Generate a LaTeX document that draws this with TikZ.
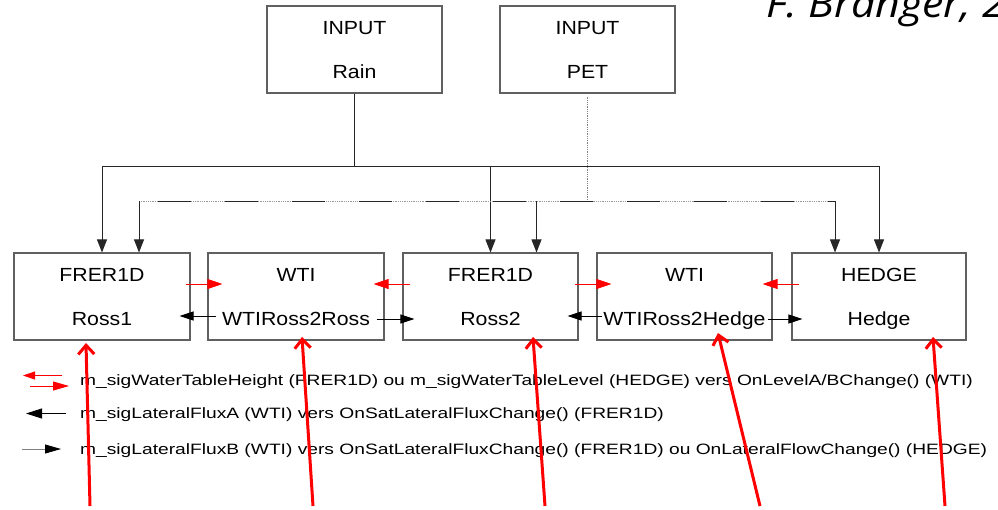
\documentclass[tikz,border=0pt]{standalone}
\usepackage{fontspec}
\setmainfont{Liberation Sans}
\newfontfamily\opensans{Open Sans}
\usepackage{graphicx}
\usetikzlibrary{arrows.meta,calc}
\definecolor{boxgray}{HTML}{606060}
\newcommand\hsc[2]{\scalebox{#1}[1]{#2}}
\newcommand\bt[1]{\hsc{1.12}{#1}}
\newcommand\lt[1]{\hsc{1.28}{#1}}
\begin{document}
\begin{tikzpicture}[x=1pt,y=-1pt,
  box/.style={draw=boxgray, line width=1.1pt, inner sep=0pt, align=center, minimum height=87pt, text depth=0pt, font=\fontsize{19}{44}\selectfont},
  conn/.style={draw=black!85, line width=0.9pt},
  darr/.style={conn, -{Triangle[length=13pt,width=10pt]}},
  redarr/.style={draw=red, line width=0.8pt, -{Triangle[length=15pt,width=10pt]}},
  blkarr/.style={draw=black, line width=0.8pt, -{Triangle[length=14pt,width=9pt]}},
  grayarr/.style={draw=gray, line width=0.8pt, -{Triangle[length=16pt,width=9pt,black]}},
  annot/.style={draw=red, line width=3pt, -{Straight Barb[length=9pt,width=16pt]}},
  legtext/.style={anchor=base west, inner sep=0pt, font=\fontsize{15}{18}\selectfont}
]
\useasboundingbox (0,0) rectangle (998,509);
\clip (0,0) rectangle (998,509);
\fill[white] (0,0) rectangle (998,509);

% title (cut off by the picture's edges, as in the reference)
\node[anchor=base west, inner sep=0pt, font=\opensans\itshape\fontsize{39}{44}\selectfont] (title) at (766,17) {\hsc{1.1}{F. Branger, 2}};

% input boxes
\node[box, minimum width=175pt] (rain) at (354.5,49.5) {\bt{INPUT}\\\bt{Rain}};
\node[box, minimum width=175pt] (pet) at (587.5,49.5) {\bt{INPUT}\\\bt{PET}};

% model boxes
\node[box, minimum width=176pt] (ross1) at (102,296.5) {\bt{FRER1D}\\\bt{Ross1}};
\node[box, minimum width=176pt] (wti1) at (296,296.5) {\bt{WTI}\\\bt{WTIRoss2Ross}};
\node[box, minimum width=175pt] (ross2) at (490.5,296.5) {\bt{FRER1D}\\\bt{Ross2}};
\node[box, minimum width=175pt] (wti2) at (684.5,296.5) {\bt{WTI}\\\bt{WTIRoss2Hedge}};
\node[box, minimum width=174pt] (hedge) at (879,296.5) {\bt{HEDGE}\\\bt{Hedge}};

% distribution buses
\coordinate (b1) at (0,166);
\coordinate (b2) at (0,201);
\coordinate (d1) at ($(ross1.north)+(37,0)$);
\coordinate (d2) at ($(ross2.north)+(46,0)$);
\coordinate (d3) at ($(hedge.north)+(-44,0)$);

\draw[conn] (rain.south) -- (rain.south |- b1);
\draw[darr] (rain.south |- b1) -| (ross1.north);
\draw[darr] (rain.south |- b1) -| (hedge.north);
\draw[darr] (ross2.north |- b1) -- (ross2.north);

\draw[gray, line width=0.8pt, densely dotted] ([yshift=-3pt]pet.south) -- (pet.south |- b2);
\draw[gray!80, line width=0.8pt, densely dotted] (d1 |- b2) -- (d3 |- b2);
\draw[black!85, line width=0.9pt, dash pattern=on 33pt off 34pt, dash phase=48pt] (d1 |- b2) -- (d3 |- b2);
\draw[darr] (d1 |- b2) -- (d1);
\draw[darr] (d2 |- b2) -- (d2);
\draw[darr] (d3 |- b2) -- (d3);

% red signals between boxes
\draw[redarr] ($(ross1.east)+(-5,-12.5)$) -- ($(wti1.west)+(15,-12.5)$);
\draw[redarr] ($(ross2.west)+(8,-12.5)$) -- ($(wti1.east)+(-11,-12.5)$);
\draw[redarr] ($(ross2.east)+(-4,-12.5)$) -- ($(wti2.west)+(15,-12.5)$);
\draw[redarr] ($(hedge.west)+(8,-12.5)$) -- ($(wti2.east)+(-10,-12.5)$);

% black lateral fluxes
\draw[blkarr] ($(wti1.west)+(9,19.5)$) -- ($(ross1.east)+(-11,19.5)$);
\draw[blkarr] ($(wti1.east)+(-8,22.5)$) -- ($(ross2.west)+(12,22.5)$);
\draw[blkarr] ($(wti2.west)+(6,19.5)$) -- ($(ross2.east)+(-11,19.5)$);
\draw[blkarr] ($(wti2.east)+(-5,22.5)$) -- ($(hedge.west)+(11,22.5)$);

% legend
\coordinate (l1a) at (62,375.5); \coordinate (l1b) at (23,375.5);
\coordinate (l2a) at (30,386); \coordinate (l2b) at (69,386);
\coordinate (l3a) at (66,413.5); \coordinate (l3b) at (26,413.5);
\coordinate (l4a) at (22,449); \coordinate (l4b) at (61,449);
\draw[red, line width=0.8pt, -{Triangle[length=12pt,width=8pt]}] (l1a) -- (l1b);
\draw[red, line width=0.8pt, -{Triangle[length=16pt,width=9pt]}] (l2a) -- (l2b);
\draw[black, line width=0.8pt, -{Triangle[length=16pt,width=10pt]}] (l3a) -- (l3b);
\draw[grayarr] (l4a) -- (l4b);

\node[legtext] (leg1) at (80,385.5) {\lt{m\_sigWaterTableHeight (FRER1D) ou m\_sigWaterTableLevel (HEDGE) vers OnLevelA/BChange() (WTI)}};
\node[legtext] (leg2) at (80,418.5) {\lt{m\_sigLateralFluxA (WTI) vers OnSatLateralFluxChange() (FRER1D)}};
\node[legtext] (leg3) at (80,454.5) {\lt{m\_sigLateralFluxB (WTI) vers OnSatLateralFluxChange() (FRER1D) ou OnLateralFlowChange() (HEDGE)}};

% red annotation arrows
\coordinate (a1s) at (90,506); \coordinate (a1e) at (86,343);
\coordinate (a2s) at (313,506); \coordinate (a2e) at (302,337);
\coordinate (a3s) at (545,506); \coordinate (a3e) at (533,337);
\coordinate (a4s) at (760,506); \coordinate (a4e) at (718,333);
\coordinate (a5s) at (945,506); \coordinate (a5e) at (933,337);
\draw[annot] (a1s) -- (a1e);
\draw[annot] (a2s) -- (a2e);
\draw[annot] (a3s) -- (a3e);
\draw[annot] (a4s) -- (a4e);
\draw[annot] (a5s) -- (a5e);
\end{tikzpicture}
\end{document}
